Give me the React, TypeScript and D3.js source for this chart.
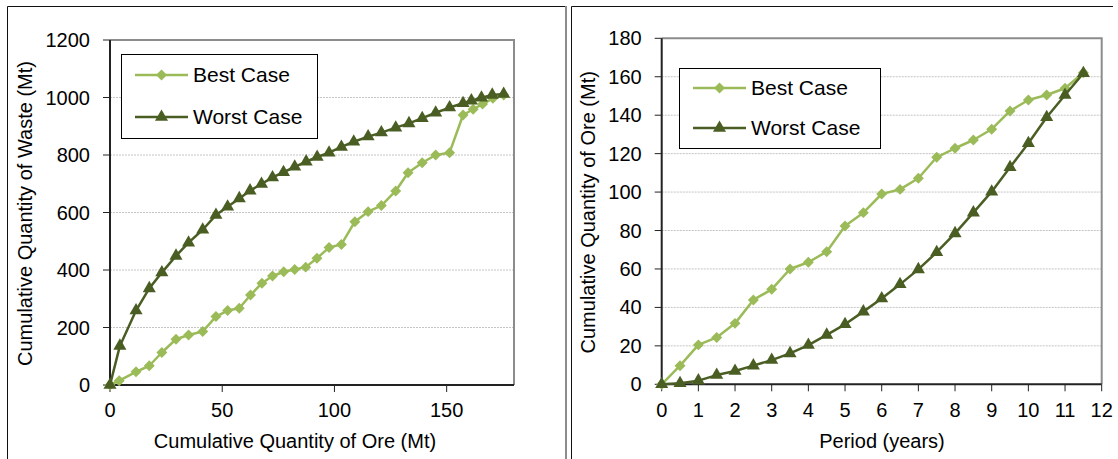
import { useEffect, useRef } from 'react'
import * as d3 from 'd3'

// left chart: cumulative ore (Mt) vs cumulative waste (Mt)
const bestOre = [0, 4.1, 11.6, 17.5, 23.1, 29.4, 35, 41.3, 47.2, 52.4, 57.6, 62.6, 67.7, 72.4, 77.4, 82.3, 87.2, 92.2, 97.6, 103.1, 109.1, 115, 120.9, 127.3, 132.8, 139.1, 145.1, 151.3, 157.3, 161.8, 166, 170.6, 175.4]
const bestWaste = [0, 15, 46, 67, 113, 159, 174, 186, 238, 259, 267, 313, 354, 379, 394, 402, 410, 441, 478, 489, 568, 603, 624, 675, 738, 773, 800, 808, 939, 959, 977, 997, 1009]
const worstOre = [0, 4.4, 11.6, 17.5, 23.1, 29.4, 35, 41.3, 47.2, 52.4, 57.6, 62.4, 67.5, 72.4, 77.3, 82.3, 87.4, 92.3, 97.6, 103.1, 108.6, 115, 120.9, 127.3, 133.2, 139.1, 145.1, 151.3, 157.3, 161, 165.5, 170.3, 175.4]
const worstWaste = [0, 136, 259, 336, 391, 449, 495, 540, 591, 620, 649, 676, 699, 722, 740, 759, 777, 793, 808, 828, 846, 864, 878, 895, 910, 928, 947, 965, 980, 989, 999, 1009, 1012]

// right chart: period (years) vs cumulative ore (Mt)
const periods = [0, 0.5, 1, 1.5, 2, 2.5, 3, 3.5, 4, 4.5, 5, 5.5, 6, 6.5, 7, 7.5, 8, 8.5, 9, 9.5, 10, 10.5, 11, 11.5]
const bestCumOre = [0, 9.7, 20.5, 24.4, 31.7, 43.9, 49.4, 60, 63.5, 69, 82.4, 89.3, 99, 101.4, 107.2, 118.1, 122.8, 127.1, 132.7, 142.2, 147.9, 150.5, 154, 162.1]
const worstCumOre = [0, 0.5, 1.9, 4.8, 6.9, 9.7, 12.6, 16.1, 20.4, 25.7, 31.2, 37.8, 44.6, 52, 59.8, 68.7, 78.5, 89.3, 100.2, 112.9, 125.4, 138.9, 150.5, 161.8]

const seriesNames = ['Best Case', 'Worst Case']
const wasteTicks = [0, 200, 400, 600, 800, 1000, 1200]
const oreTicks = [0, 50, 100, 150]
const periodTicks = [0, 1, 2, 3, 4, 5, 6, 7, 8, 9, 10, 11, 12]
const cumOreTicks = [0, 20, 40, 60, 80, 100, 120, 140, 160, 180]

const BEST = '#9BBB59'
const WORST = '#4A5E24'
const FONT = '"Liberation Sans", Arial, sans-serif'

type Cfg = {
    left: number, right: number, top: number, bottom: number
    xMax: number, yMax: number
    xTicks: number[], yTicks: number[]
    series: { xs: number[], ys: number[] }[]
    xTitle: string, xTitleX: number, yTitle: string, yTitleX: number
    legendX: number, legendY: number, legendW: number, legendH: number
}

const diamond = d3.symbol(d3.symbolSquare, 60)()
const triangle = d3.symbol(d3.symbolTriangle, 74)()

export default function App() {
    const svgRef = useRef<SVGSVGElement>(null)

    useEffect(() => {
        const svg = d3.select(svgRef.current)
        svg.selectAll('*').remove()

        // panel frames
        const frames = svg.append('g').attr('fill', 'none')
        frames.append('path').attr('d', 'M7.5,460V6.5H566').attr('stroke', '#111').attr('stroke-width', 1)
        frames.append('line').attr('x1', 566).attr('x2', 566).attr('y1', 6).attr('y2', 460).attr('stroke', '#8c8c8c').attr('stroke-width', 2)
        frames.append('path').attr('d', 'M571.5,460V6.5H1113').attr('stroke', '#111').attr('stroke-width', 1)

        chart(svg, {
            left: 110, right: 514, top: 40, bottom: 385,
            xMax: 180, yMax: 1200,
            xTicks: oreTicks, yTicks: wasteTicks,
            series: [{ xs: bestOre, ys: bestWaste }, { xs: worstOre, ys: worstWaste }],
            xTitle: 'Cumulative Quantity of Ore (Mt)', xTitleX: 295,
            yTitle: 'Cumulative Quantity of Waste (Mt)', yTitleX: 32,
            legendX: 121, legendY: 54, legendW: 196, legendH: 84,
        })
        chart(svg, {
            left: 661.7, right: 1101.7, top: 38.3, bottom: 384.3,
            xMax: 12, yMax: 180,
            xTicks: periodTicks, yTicks: cumOreTicks,
            series: [{ xs: periods, ys: bestCumOre }, { xs: periods, ys: worstCumOre }],
            xTitle: 'Period (years)', xTitleX: 882,
            yTitle: 'Cumulative Quantity of Ore (Mt)', yTitleX: 594.5,
            legendX: 679, legendY: 68, legendW: 201, legendH: 80,
        })
    }, [])

    function chart(svg: any, c: Cfg) {
        const x = d3.scaleLinear().domain([0, c.xMax]).range([c.left, c.right])
        const y = d3.scaleLinear().domain([0, c.yMax]).range([c.bottom, c.top])
        const g = svg.append('g')

        // gridlines
        g.append('g')
            .selectAll('line')
            .data(c.yTicks.filter((t) => t > 0 && t < c.yMax))
            .join('line')
            .attr('x1', c.left).attr('x2', c.right)
            .attr('y1', (d: number) => y(d)).attr('y2', (d: number) => y(d))
            .attr('stroke', '#c4c4c4').attr('stroke-width', 1).attr('stroke-dasharray', '2,1')

        // plot border (top/right grey)
        g.append('path')
            .attr('d', `M${c.left},${c.top}H${c.right}V${c.bottom}`)
            .attr('fill', 'none').attr('stroke', '#8c8c8c').attr('stroke-width', 2)

        // axes
        g.append('g').selectAll('line').data(c.yTicks).join('line')
            .attr('x1', c.left - 7).attr('x2', c.left)
            .attr('y1', (d: number) => y(d)).attr('y2', (d: number) => y(d))
            .attr('stroke', '#222').attr('stroke-width', 1)
        g.append('g').selectAll('line').data(c.xTicks).join('line')
            .attr('x1', (d: number) => x(d)).attr('x2', (d: number) => x(d))
            .attr('y1', c.bottom).attr('y2', c.bottom + 7)
            .attr('stroke', '#222').attr('stroke-width', 1)
        g.append('path')
            .attr('d', `M${c.left},${c.top}V${c.bottom}H${c.right}`)
            .attr('fill', 'none').attr('stroke', '#222').attr('stroke-width', 2)

        // tick labels
        g.append('g').selectAll('text').data(c.yTicks).join('text')
            .attr('x', c.left - 20).attr('y', (d: number) => y(d)).attr('dy', '0.35em')
            .attr('text-anchor', 'end')
            .style('font-family', FONT).style('font-size', '20px').attr('fill', '#000')
            .text((d: number) => d)
        g.append('g').selectAll('text').data(c.xTicks).join('text')
            .attr('x', (d: number) => x(d)).attr('y', 416.5)
            .attr('text-anchor', 'middle')
            .style('font-family', FONT).style('font-size', '20px').attr('fill', '#000')
            .text((d: number) => d)

        // titles
        g.append('text')
            .attr('x', c.xTitleX).attr('y', 448).attr('text-anchor', 'middle')
            .style('font-family', FONT).style('font-size', '20px')
            .text(c.xTitle)
        g.append('text')
            .attr('transform', `translate(${c.yTitleX},${(c.top + c.bottom) / 2 + 1}) rotate(-90)`)
            .attr('text-anchor', 'middle')
            .style('font-family', FONT).style('font-size', '20px')
            .text(c.yTitle)

        // series: best first, worst on top
        const colors = [BEST, WORST]
        c.series.forEach((s, i) => {
            const pts = s.xs.map((v, k) => [x(v), y(s.ys[k])] as [number, number])
            g.append('path')
                .attr('d', d3.line()(pts))
                .attr('fill', 'none').attr('stroke', colors[i]).attr('stroke-width', 2.5)
                .attr('stroke-linejoin', 'round')
            g.append('g').selectAll('path').data(pts).join('path')
                .attr('d', i === 0 ? diamond : triangle)
                .attr('transform', (d: [number, number]) => `translate(${d[0]},${d[1]})${i === 0 ? ' rotate(45)' : ''}`)
                .attr('fill', colors[i])
        })

        // legend
        const lg = g.append('g').attr('transform', `translate(${c.legendX},${c.legendY})`)
        lg.append('rect')
            .attr('x', 0.5).attr('y', 0.5).attr('width', c.legendW).attr('height', c.legendH)
            .attr('fill', '#fff').attr('stroke', '#000').attr('stroke-width', 1)
        seriesNames.forEach((name, i) => {
            const yy = c.legendH * (i === 0 ? 0.25 : 0.75)
            lg.append('line')
                .attr('x1', 14).attr('x2', 67).attr('y1', yy).attr('y2', yy)
                .attr('stroke', colors[i]).attr('stroke-width', 2.5)
            lg.append('path')
                .attr('d', i === 0 ? diamond : triangle)
                .attr('transform', `translate(40.5,${yy})${i === 0 ? ' rotate(45)' : ''}`)
                .attr('fill', colors[i])
            lg.append('text')
                .attr('x', 72).attr('y', yy).attr('dy', '0.35em')
                .style('font-family', FONT).style('font-size', '21px')
                .text(name)
        })
    }

    return (
        <svg ref={svgRef} width={1118} height={459}
            style={{ position: 'absolute', left: 0, top: 0, background: '#fff' }} />
    )
}
